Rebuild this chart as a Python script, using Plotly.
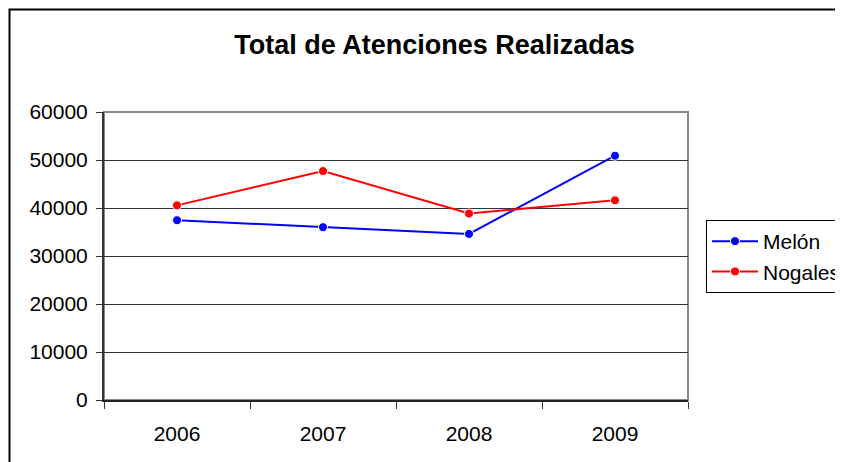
import plotly.graph_objects as go

years = ["2006", "2007", "2008", "2009"]
melon = [37450, 36000, 34600, 50900]
nogales = [40550, 47700, 38850, 41600]
y_ticks = [0, 10000, 20000, 30000, 40000, 50000, 60000]
y_tick_labels = ["0", "10000", "20000", "30000", "40000", "50000", "60000"]

FONT = "Arial, Liberation Sans, sans-serif"

fig = go.Figure()
fig.add_trace(go.Scatter(
    x=years, y=melon, name="Melón", mode="lines+markers",
    line=dict(color="#0000FF", width=2),
    marker=dict(symbol="circle", size=9, color="#0000FF", line=dict(color="white", width=1)),
))
fig.add_trace(go.Scatter(
    x=years, y=nogales, name="Nogales", mode="lines+markers",
    line=dict(color="#FF0000", width=2),
    marker=dict(symbol="circle", size=9, color="#FF0000", line=dict(color="white", width=1)),
))

# page body has an 8px margin; work in page pixels and shift
O = 8
W, H = 843, 462
L, R, T, B = 104 - O, 688 - O, 112 - O, 400 - O
pw, ph = R - L, B - T

def px_x(p):
    return (p - O - L) / pw

def px_y(p):
    return (B - (p - O)) / ph

fig.update_layout(
    width=W, height=H,
    margin=dict(l=L, r=W - R, t=T, b=H - B, pad=0, autoexpand=False),
    paper_bgcolor="white", plot_bgcolor="white",
    font=dict(family=FONT, size=21, color="black"),
    title=dict(text="<b>Total de Atenciones Realizadas</b>", font=dict(family=FONT, size=27, color="black"),
               x=(434.5 - O) / W, xanchor="center", xref="container",
               y=1 - (45 - O) / H, yanchor="middle", yref="container"),
    showlegend=True,
    legend=dict(x=px_x(706), y=px_y(220), xanchor="left", yanchor="top",
                bordercolor="black", borderwidth=1, bgcolor="white",
                font=dict(family=FONT, size=21, color="black"),
                itemwidth=46, tracegroupgap=0),
    xaxis=dict(type="category", tickson="boundaries", ticks="outside", ticklen=7,
               tickcolor="#333333", showline=True, linecolor="#222222", linewidth=2,
               showgrid=False, ticklabelstandoff=14, range=[-0.5, 3.5],
               tickfont=dict(family=FONT, size=21, color="black")),
    yaxis=dict(range=[0, 60000], tickvals=y_ticks, ticktext=y_tick_labels,
               ticks="outside", ticklen=6,
               tickcolor="#333333", showline=True, linecolor="#333333", linewidth=2,
               showgrid=True, gridcolor="#333333", gridwidth=1, zeroline=False,
               ticklabelstandoff=4,
               tickfont=dict(family=FONT, size=21, color="black")),
)

# plot-area border (gray top/right)
fig.add_shape(type="rect", xref="paper", yref="paper", x0=0, x1=1, y0=0, y1=1,
              line=dict(color="#888888", width=2), layer="below")
# outer chart border
fig.add_shape(type="rect", xref="paper", yref="paper",
              x0=px_x(9.5), x1=px_x(W + 30), y0=px_y(H + 30), y1=px_y(9.5),
              line=dict(color="black", width=2), layer="above")

fig.write_html("out.html")
